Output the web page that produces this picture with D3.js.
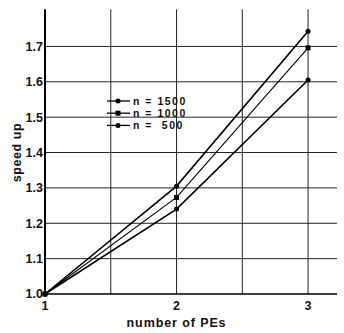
<!DOCTYPE html>
<html>
<head>
<meta charset="utf-8">
<script src="https://cdn.jsdelivr.net/npm/d3@7"></script>
<style>
  html, body { margin: 0; padding: 0; background: #fff; }
  svg { display: block; }
  text { font-family: "Liberation Sans", Arial, sans-serif; font-weight: bold; fill: #111; }
</style>
</head>
<body>
<script>
// Speed-up measured for 1, 2 and 3 processing elements
const pes = [1, 2, 3];
const n1500 = [1.0, 1.305, 1.743];
const n1000 = [1.0, 1.273, 1.696];
const n500  = [1.0, 1.24, 1.605];
const seriesNames = ["n = 1500", "n = 1000", "n =  500"];
const yTicks = [1.0, 1.1, 1.2, 1.3, 1.4, 1.5, 1.6, 1.7];
const xTicks = [1, 2, 3];
const xGrid = [1.5, 2, 2.5, 3];

const W = 344, H = 333;
const svg = d3.select("body").append("svg").attr("width", W).attr("height", H);

const x = d3.scaleLinear().domain([1, 3.22]).range([45, 337]);
const y = d3.scaleLinear().domain([1, 1.82]).range([294, 4]);

// grid
const g = svg.append("g");
g.selectAll("line.hg").data(yTicks.slice(1)).join("line")
  .attr("x1", x(1)).attr("x2", x(3.22))
  .attr("y1", d => y(d)).attr("y2", d => y(d))
  .attr("stroke", "#222").attr("stroke-width", 1);
g.selectAll("line.vg").data(xGrid).join("line")
  .attr("x1", d => x(d)).attr("x2", d => x(d))
  .attr("y1", y(1)).attr("y2", y(1.805))
  .attr("stroke", "#222").attr("stroke-width", 1);

// axes lines
svg.append("line").attr("x1", x(1)).attr("x2", x(1))
  .attr("y1", y(1)).attr("y2", y(1.805)).attr("stroke", "#000").attr("stroke-width", 2);
svg.append("line").attr("x1", x(1)).attr("x2", x(3.22))
  .attr("y1", y(1)).attr("y2", y(1)).attr("stroke", "#000").attr("stroke-width", 1.5);

// tick labels
svg.selectAll("text.yt").data(yTicks).join("text")
  .attr("x", 43).attr("y", d => y(d)).attr("dy", "0.35em")
  .attr("text-anchor", "end").attr("font-size", 12.5)
  .text(d => d.toFixed(1));
svg.selectAll("text.xt").data(xTicks).join("text")
  .attr("x", d => x(d)).attr("y", 310)
  .attr("text-anchor", "middle").attr("font-size", 12.5)
  .text(d => d);

// axis titles
svg.append("text").attr("x", x(2)).attr("y", 327)
  .attr("text-anchor", "middle").attr("font-size", 12.5)
  .attr("letter-spacing", 0.9).text("number of PEs");
svg.append("text").attr("transform", `translate(21,${y(1.4)}) rotate(-90)`)
  .attr("text-anchor", "middle").attr("font-size", 12.5)
  .attr("letter-spacing", 0.6).text("speed up");

// series
const series = [
  { name: seriesNames[0], vals: n1500, shape: "circle", w: 1.6 },
  { name: seriesNames[1], vals: n1000, shape: "square", w: 1.1 },
  { name: seriesNames[2], vals: n500,  shape: "circle", w: 1.6 }
];
const line = d3.line().x((d, i) => x(pes[i])).y(d => y(d));

function marker(sel, shape, cx, cy) {
  if (shape === "circle") {
    sel.append("circle").attr("cx", cx).attr("cy", cy).attr("r", 2.5).attr("fill", "#000");
  } else {
    sel.append("rect").attr("x", cx - 2.5).attr("y", cy - 2.5).attr("width", 5).attr("height", 5).attr("fill", "#000");
  }
}

series.forEach(s => {
  svg.append("path").attr("d", line(s.vals)).attr("fill", "none")
    .attr("stroke", "#000").attr("stroke-width", s.w);
  s.vals.forEach((v, i) => marker(svg, s.shape, x(pes[i]), y(v)));
});

// legend
const lg = svg.append("g");
series.forEach((s, i) => {
  const ly = 101 + i * 12.2;
  lg.append("line").attr("x1", 107).attr("x2", 130).attr("y1", ly).attr("y2", ly)
    .attr("stroke", "#000").attr("stroke-width", 1.3);
  marker(lg, s.shape, 118, ly);
  lg.append("text").attr("x", 133).attr("y", ly).attr("dy", "0.35em")
    .attr("font-size", 10.5).attr("letter-spacing", 1.5)
    .attr("xml:space", "preserve").style("white-space", "pre")
    .text(s.name);
});
</script>
</body>
</html>
